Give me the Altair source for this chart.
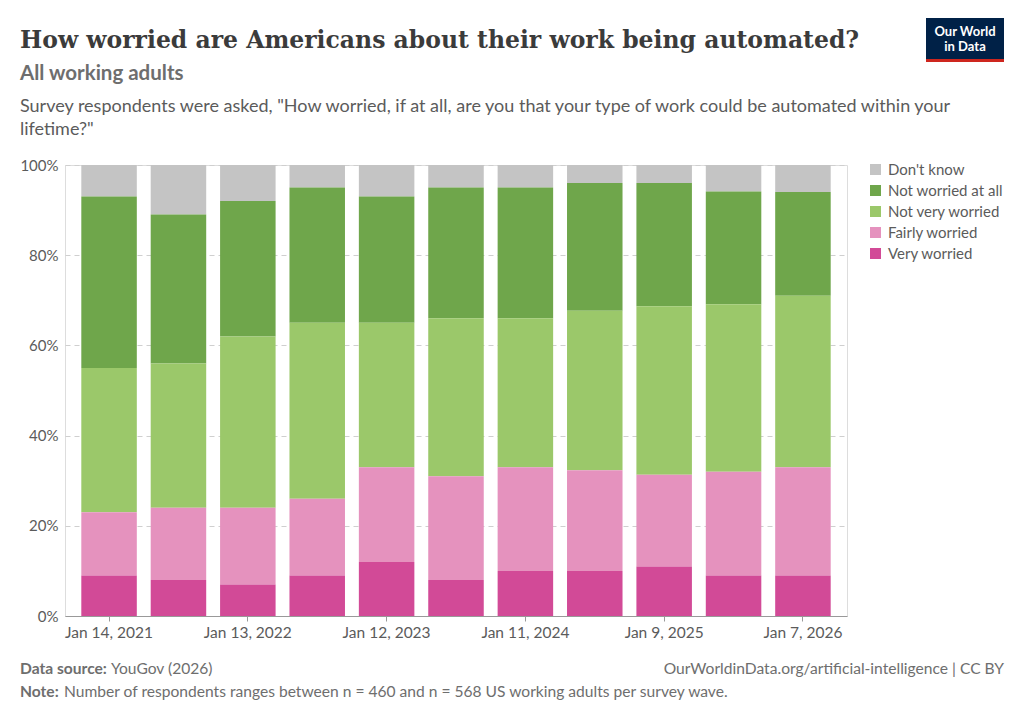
import altair as alt
import pandas as pd

# ---- data (shares in %) ----
waves = [1, 2, 3, 4, 5, 6, 7, 8, 9, 10, 11]
wave_labels = ["Jan 14, 2021", "", "Jan 13, 2022", "", "Jan 12, 2023", "",
               "Jan 11, 2024", "", "Jan 9, 2025", "", "Jan 7, 2026"]
very_worried = [9, 8, 7, 9, 12, 8, 10, 10, 11, 9, 9]
fairly_worried = [14, 16, 17, 17, 21, 23, 23, 22.3, 20.3, 23, 24]
not_very_worried = [32, 32, 38, 39, 32, 35, 33, 35.4, 37.4, 37.2, 38]
not_worried_at_all = [38, 33, 30, 30, 28, 29, 29, 28.3, 27.3, 25, 23]
dont_know = [7, 11, 8, 5, 7, 5, 5, 4, 4, 5.9, 6]

categories = ["Don't know", "Not worried at all", "Not very worried",
              "Fairly worried", "Very worried"]
colors = ["#c4c4c4", "#6fa64b", "#9bc86a", "#e592be", "#d24a97"]
series = [dont_know, not_worried_at_all, not_very_worried, fairly_worried, very_worried]

rows = []
for ci, (cat, vals) in enumerate(zip(categories, series)):
    for w, v in zip(waves, vals):
        rows.append({"wave": w, "answer": cat, "share": v, "rank": len(categories) - ci})
df = pd.DataFrame(rows)

FONT = "Lato"
TEXT = "#5b5b5b"
FOOT = "#6e6e6e"

label_array = "[" + ",".join("'" + l + "'" for l in wave_labels) + "]"

bars = alt.Chart(df).mark_bar(strokeWidth=0).encode(
    x=alt.X("wave:O", title=None,
            scale=alt.Scale(paddingInner=0.2, paddingOuter=0.235),
            axis=alt.Axis(values=[1, 3, 5, 7, 9, 11], labelAngle=0,
                          labelExpr=label_array + "[datum.value - 1]",
                          labelFont=FONT, labelFontSize=15.5, labelColor=TEXT,
                          labelPadding=4, tickSize=5, tickColor="#999999",
                          domainColor="#999999", grid=False)),
    y=alt.Y("share:Q", stack="normalize", title=None,
            scale=alt.Scale(domain=[0, 1]),
            axis=alt.Axis(values=[0, 0.2, 0.4, 0.6, 0.8, 1.0], format=".0%",
                          labelFont=FONT, labelFontSize=15, labelColor=TEXT,
                          labelPadding=7, tickSize=0, domain=False,
                          grid=True, gridColor="#cfcfcf", gridDash=[5, 4])),
    color=alt.Color("answer:N",
                    scale=alt.Scale(domain=categories, range=colors),
                    legend=alt.Legend(title=None, orient="none", legendX=803, legendY=-3,
                                      symbolType="square", symbolSize=121,
                                      symbolStrokeWidth=0, labelFont=FONT,
                                      labelFontSize=15, labelColor=TEXT,
                                      rowPadding=5, labelOffset=5)),
    order=alt.Order("rank:Q", sort="ascending"),
)


def txt(s, x, y, size, color, font=FONT, weight="normal", align="left"):
    return alt.Chart(pd.DataFrame({"t": [s]})).mark_text(
        font=font, fontSize=size, color=color, fontWeight=weight,
        align=align, baseline="alphabetic").encode(
        text="t:N", x=alt.value(x), y=alt.value(y))


OX, OY = 65, 165  # plot origin on the page

title = txt("How worried are Americans about their work being automated?",
            20 - OX, 48 - OY, 23.5, "#3b3b3b", font="DejaVu Serif", weight="bold")
subtitle = txt("All working adults", 20 - OX, 80 - OY, 20.5, "#6e6e6e", weight="bold")
desc1 = txt('Survey respondents were asked, "How worried, if at all, are you that your type of work could be automated within your',
            20 - OX, 112 - OY, 18, TEXT)
desc2 = txt('lifetime?"', 20 - OX, 135 - OY, 18, TEXT)

src_b = txt("Data source:", 20 - OX, 674 - OY, 15.6, FOOT, weight="bold")
src = txt("YouGov (2026)", 111 - OX, 674 - OY, 15.6, FOOT)
url = txt("OurWorldinData.org/artificial-intelligence | CC BY", 1004 - OX, 674 - OY, 15.6,
          FOOT, align="right")
note_b = txt("Note:", 20 - OX, 697 - OY, 15.6, FOOT, weight="bold")
note = txt("Number of respondents ranges between n = 460 and n = 568 US working adults per survey wave.",
           64 - OX, 697 - OY, 15.6, FOOT)

logo_box = alt.Chart(pd.DataFrame({"a": [0]})).mark_rect(color="#002147").encode(
    x=alt.value(926 - OX), x2=alt.value(1004 - OX), y=alt.value(18 - OY), y2=alt.value(59 - OY))
logo_red = alt.Chart(pd.DataFrame({"a": [0]})).mark_rect(color="#ce261e").encode(
    x=alt.value(926 - OX), x2=alt.value(1004 - OX), y=alt.value(59 - OY), y2=alt.value(62 - OY))
logo1 = txt("Our World", 965 - OX, 36 - OY, 13, "#ffffff", weight="bold", align="center")
logo2 = txt("in Data", 965 - OX, 51 - OY, 13, "#ffffff", weight="bold", align="center")

chart = alt.layer(
    bars, title, subtitle, desc1, desc2, src_b, src, url, note_b, note,
    logo_box, logo_red, logo1, logo2
).properties(
    width=782, height=451,
    padding={"left": OX - 8, "top": OY - 8, "right": 1008 - 782 - (OX - 8), "bottom": 706 - 451 - (OY - 8)},
    autosize=alt.AutoSizeParams(type="none"),
).configure_view(stroke=None).configure(background="white")

chart.save("out.html", embed_options={"renderer": "svg", "actions": False})
